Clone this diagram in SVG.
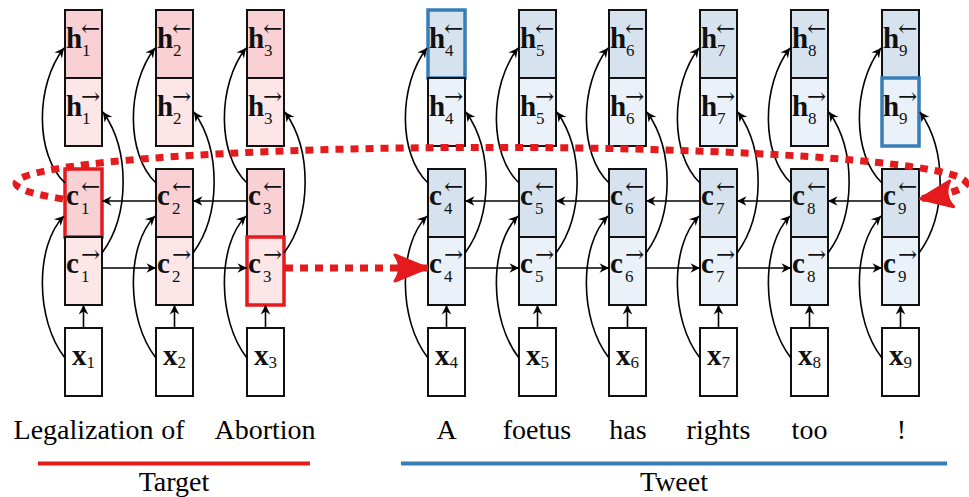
<svg xmlns="http://www.w3.org/2000/svg" width="969" height="497" viewBox="0 0 969 497">
<style>
.box{stroke:#111;stroke-width:2}
.pd{fill:#f9d0d3}.pl{fill:#fce6e8}.bd{fill:#d6e3ef}.bl{fill:#eaf1f8}.wh{fill:#fff}
.hr{fill:none;stroke:#e41a1c;stroke-width:3.5}
.hb{fill:none;stroke:#377eb8;stroke-width:3.5}
.m{font-family:'Liberation Serif','Times New Roman',serif;font-weight:bold;font-size:29px;fill:#111}
.s{font-weight:normal;font-size:17px}
.ar{font-family:'DejaVu Serif',serif;font-weight:normal;font-size:23px}
.w{font-family:'Liberation Serif','Times New Roman',serif;font-size:28px;fill:#000;text-anchor:middle}
.cn{fill:none;stroke:#000;stroke-width:1.6;marker-end:url(#ah)}
.rd{fill:none;stroke:#e41a1c;stroke-width:7;stroke-dasharray:8 7;marker-end:url(#rah)}
</style>
<defs>
<marker id="ah" viewBox="-11 -6 12 12" refX="0" refY="0" markerWidth="12" markerHeight="12" markerUnits="userSpaceOnUse" orient="auto">
<path d="M0,0 L-9.5,-4.8 L-6.5,0 L-9.5,4.8 Z" fill="#000"/>
</marker>
<marker id="rah" viewBox="-38 -18 40 36" refX="0" refY="0" markerWidth="40" markerHeight="36" markerUnits="userSpaceOnUse" orient="auto">
<path d="M-1.5,0 L-33,-13 Q-24,0 -33,13 Z" fill="#e41a1c" stroke="#e41a1c" stroke-width="3" stroke-linejoin="round"/>
</marker>
</defs>

<!-- Column 1 -->
<g id="h1b"><rect class="box pd" x="65" y="10" width="37" height="68"/><text class="m" x="66" y="48">h<tspan class="ar" x="81" dy="-12">←</tspan><tspan class="s" x="82" dy="20">1</tspan></text></g>
<g id="h1f"><rect class="box pl" x="65" y="78" width="37" height="68"/><text class="m" x="66" y="116">h<tspan class="ar" x="81" dy="-12">→</tspan><tspan class="s" x="82" dy="20">1</tspan></text></g>
<g id="c1b"><rect class="box pd" x="65" y="169" width="37" height="68"/><text class="m" x="66" y="205">c<tspan class="ar" x="81" dy="-11">←</tspan><tspan class="s" x="81" dy="20">1</tspan></text><rect class="hr" x="65" y="169" width="37" height="68"/></g>
<g id="c1f"><rect class="box pl" x="65" y="237" width="37" height="68"/><text class="m" x="66" y="273">c<tspan class="ar" x="81" dy="-11">→</tspan><tspan class="s" x="81" dy="20">1</tspan></text></g>
<g id="x1"><rect class="box wh" x="65" y="328" width="37" height="68"/><text class="m" x="83.5" y="365" text-anchor="middle">x<tspan class="s" dy="3">1</tspan></text></g>

<!-- Column 2 -->
<g id="h2b"><rect class="box pd" x="156" y="10" width="37" height="68"/><text class="m" x="157" y="48">h<tspan class="ar" x="172" dy="-12">←</tspan><tspan class="s" x="173" dy="20">2</tspan></text></g>
<g id="h2f"><rect class="box pl" x="156" y="78" width="37" height="68"/><text class="m" x="157" y="116">h<tspan class="ar" x="172" dy="-12">→</tspan><tspan class="s" x="173" dy="20">2</tspan></text></g>
<g id="c2b"><rect class="box pd" x="156" y="169" width="37" height="68"/><text class="m" x="157" y="205">c<tspan class="ar" x="172" dy="-11">←</tspan><tspan class="s" x="172" dy="20">2</tspan></text></g>
<g id="c2f"><rect class="box pl" x="156" y="237" width="37" height="68"/><text class="m" x="157" y="273">c<tspan class="ar" x="172" dy="-11">→</tspan><tspan class="s" x="172" dy="20">2</tspan></text></g>
<g id="x2"><rect class="box wh" x="156" y="328" width="37" height="68"/><text class="m" x="174.5" y="365" text-anchor="middle">x<tspan class="s" dy="3">2</tspan></text></g>

<!-- Column 3 -->
<g id="h3b"><rect class="box pd" x="247" y="10" width="37" height="68"/><text class="m" x="248" y="48">h<tspan class="ar" x="263" dy="-12">←</tspan><tspan class="s" x="264" dy="20">3</tspan></text></g>
<g id="h3f"><rect class="box pl" x="247" y="78" width="37" height="68"/><text class="m" x="248" y="116">h<tspan class="ar" x="263" dy="-12">→</tspan><tspan class="s" x="264" dy="20">3</tspan></text></g>
<g id="c3b"><rect class="box pd" x="247" y="169" width="37" height="68"/><text class="m" x="248" y="205">c<tspan class="ar" x="263" dy="-11">←</tspan><tspan class="s" x="263" dy="20">3</tspan></text></g>
<g id="c3f"><rect class="box pl" x="247" y="237" width="37" height="68"/><text class="m" x="248" y="273">c<tspan class="ar" x="263" dy="-11">→</tspan><tspan class="s" x="263" dy="20">3</tspan></text><rect class="hr" x="247" y="237" width="37" height="68"/></g>
<g id="x3"><rect class="box wh" x="247" y="328" width="37" height="68"/><text class="m" x="265.5" y="365" text-anchor="middle">x<tspan class="s" dy="3">3</tspan></text></g>

<!-- Column 4 -->
<g id="h4b"><rect class="box bd" x="428" y="10" width="37" height="68"/><text class="m" x="429" y="48">h<tspan class="ar" x="444" dy="-12">←</tspan><tspan class="s" x="445" dy="20">4</tspan></text><rect class="hb" x="428" y="10" width="37" height="68"/></g>
<g id="h4f"><rect class="box bl" x="428" y="78" width="37" height="68"/><text class="m" x="429" y="116">h<tspan class="ar" x="444" dy="-12">→</tspan><tspan class="s" x="445" dy="20">4</tspan></text></g>
<g id="c4b"><rect class="box bd" x="428" y="169" width="37" height="68"/><text class="m" x="429" y="205">c<tspan class="ar" x="444" dy="-11">←</tspan><tspan class="s" x="444" dy="20">4</tspan></text></g>
<g id="c4f"><rect class="box bl" x="428" y="237" width="37" height="68"/><text class="m" x="429" y="273">c<tspan class="ar" x="444" dy="-11">→</tspan><tspan class="s" x="444" dy="20">4</tspan></text></g>
<g id="x4"><rect class="box wh" x="428" y="328" width="37" height="68"/><text class="m" x="446.5" y="365" text-anchor="middle">x<tspan class="s" dy="3">4</tspan></text></g>

<!-- Column 5 -->
<g id="h5b"><rect class="box bd" x="519" y="10" width="37" height="68"/><text class="m" x="520" y="48">h<tspan class="ar" x="535" dy="-12">←</tspan><tspan class="s" x="536" dy="20">5</tspan></text></g>
<g id="h5f"><rect class="box bl" x="519" y="78" width="37" height="68"/><text class="m" x="520" y="116">h<tspan class="ar" x="535" dy="-12">→</tspan><tspan class="s" x="536" dy="20">5</tspan></text></g>
<g id="c5b"><rect class="box bd" x="519" y="169" width="37" height="68"/><text class="m" x="520" y="205">c<tspan class="ar" x="535" dy="-11">←</tspan><tspan class="s" x="535" dy="20">5</tspan></text></g>
<g id="c5f"><rect class="box bl" x="519" y="237" width="37" height="68"/><text class="m" x="520" y="273">c<tspan class="ar" x="535" dy="-11">→</tspan><tspan class="s" x="535" dy="20">5</tspan></text></g>
<g id="x5"><rect class="box wh" x="519" y="328" width="37" height="68"/><text class="m" x="537.5" y="365" text-anchor="middle">x<tspan class="s" dy="3">5</tspan></text></g>

<!-- Column 6 -->
<g id="h6b"><rect class="box bd" x="609" y="10" width="37" height="68"/><text class="m" x="610" y="48">h<tspan class="ar" x="625" dy="-12">←</tspan><tspan class="s" x="626" dy="20">6</tspan></text></g>
<g id="h6f"><rect class="box bl" x="609" y="78" width="37" height="68"/><text class="m" x="610" y="116">h<tspan class="ar" x="625" dy="-12">→</tspan><tspan class="s" x="626" dy="20">6</tspan></text></g>
<g id="c6b"><rect class="box bd" x="609" y="169" width="37" height="68"/><text class="m" x="610" y="205">c<tspan class="ar" x="625" dy="-11">←</tspan><tspan class="s" x="625" dy="20">6</tspan></text></g>
<g id="c6f"><rect class="box bl" x="609" y="237" width="37" height="68"/><text class="m" x="610" y="273">c<tspan class="ar" x="625" dy="-11">→</tspan><tspan class="s" x="625" dy="20">6</tspan></text></g>
<g id="x6"><rect class="box wh" x="609" y="328" width="37" height="68"/><text class="m" x="627.5" y="365" text-anchor="middle">x<tspan class="s" dy="3">6</tspan></text></g>

<!-- Column 7 -->
<g id="h7b"><rect class="box bd" x="700" y="10" width="37" height="68"/><text class="m" x="701" y="48">h<tspan class="ar" x="716" dy="-12">←</tspan><tspan class="s" x="717" dy="20">7</tspan></text></g>
<g id="h7f"><rect class="box bl" x="700" y="78" width="37" height="68"/><text class="m" x="701" y="116">h<tspan class="ar" x="716" dy="-12">→</tspan><tspan class="s" x="717" dy="20">7</tspan></text></g>
<g id="c7b"><rect class="box bd" x="700" y="169" width="37" height="68"/><text class="m" x="701" y="205">c<tspan class="ar" x="716" dy="-11">←</tspan><tspan class="s" x="716" dy="20">7</tspan></text></g>
<g id="c7f"><rect class="box bl" x="700" y="237" width="37" height="68"/><text class="m" x="701" y="273">c<tspan class="ar" x="716" dy="-11">→</tspan><tspan class="s" x="716" dy="20">7</tspan></text></g>
<g id="x7"><rect class="box wh" x="700" y="328" width="37" height="68"/><text class="m" x="718.5" y="365" text-anchor="middle">x<tspan class="s" dy="3">7</tspan></text></g>

<!-- Column 8 -->
<g id="h8b"><rect class="box bd" x="791" y="10" width="37" height="68"/><text class="m" x="792" y="48">h<tspan class="ar" x="807" dy="-12">←</tspan><tspan class="s" x="808" dy="20">8</tspan></text></g>
<g id="h8f"><rect class="box bl" x="791" y="78" width="37" height="68"/><text class="m" x="792" y="116">h<tspan class="ar" x="807" dy="-12">→</tspan><tspan class="s" x="808" dy="20">8</tspan></text></g>
<g id="c8b"><rect class="box bd" x="791" y="169" width="37" height="68"/><text class="m" x="792" y="205">c<tspan class="ar" x="807" dy="-11">←</tspan><tspan class="s" x="807" dy="20">8</tspan></text></g>
<g id="c8f"><rect class="box bl" x="791" y="237" width="37" height="68"/><text class="m" x="792" y="273">c<tspan class="ar" x="807" dy="-11">→</tspan><tspan class="s" x="807" dy="20">8</tspan></text></g>
<g id="x8"><rect class="box wh" x="791" y="328" width="37" height="68"/><text class="m" x="809.5" y="365" text-anchor="middle">x<tspan class="s" dy="3">8</tspan></text></g>

<!-- Column 9 -->
<g id="h9b"><rect class="box bd" x="882" y="10" width="37" height="68"/><text class="m" x="883" y="48">h<tspan class="ar" x="898" dy="-12">←</tspan><tspan class="s" x="899" dy="20">9</tspan></text></g>
<g id="h9f"><rect class="box bl" x="882" y="78" width="37" height="68"/><text class="m" x="883" y="116">h<tspan class="ar" x="898" dy="-12">→</tspan><tspan class="s" x="899" dy="20">9</tspan></text><rect class="hb" x="882" y="78" width="37" height="68"/></g>
<g id="c9b"><rect class="box bd" x="882" y="169" width="37" height="68"/><text class="m" x="883" y="205">c<tspan class="ar" x="898" dy="-11">←</tspan><tspan class="s" x="898" dy="20">9</tspan></text></g>
<g id="c9f"><rect class="box bl" x="882" y="237" width="37" height="68"/><text class="m" x="883" y="273">c<tspan class="ar" x="898" dy="-11">→</tspan><tspan class="s" x="898" dy="20">9</tspan></text></g>
<g id="x9"><rect class="box wh" x="882" y="328" width="37" height="68"/><text class="m" x="900.5" y="365" text-anchor="middle">x<tspan class="s" dy="3">9</tspan></text></g>

<g id="connectors">
<path class="cn" d="M65,358 C35,320 35,245 64,216"/><path class="cn" d="M65,183 C35,155 35,85 64,48"/><path class="cn" d="M102,253 C130,215 130,150 103,112"/><path class="cn" d="M83.5,328 V305"/><path class="cn" d="M102,268 H156"/><path class="cn" d="M156,201 H102"/>
<path class="cn" d="M156,358 C126,320 126,245 155,216"/><path class="cn" d="M156,183 C126,155 126,85 155,48"/><path class="cn" d="M193,253 C221,215 221,150 194,112"/><path class="cn" d="M174.5,328 V305"/><path class="cn" d="M193,268 H247"/><path class="cn" d="M247,201 H193"/>
<path class="cn" d="M247,358 C217,320 217,245 246,216"/><path class="cn" d="M247,183 C217,155 217,85 246,48"/><path class="cn" d="M284,253 C312,215 312,150 285,112"/><path class="cn" d="M265.5,328 V305"/>
<path class="cn" d="M428,358 C398,320 398,245 427,216"/><path class="cn" d="M428,183 C398,155 398,85 427,48"/><path class="cn" d="M465,253 C493,215 493,150 466,112"/><path class="cn" d="M446.5,328 V305"/><path class="cn" d="M465,268 H519"/><path class="cn" d="M519,201 H465"/>
<path class="cn" d="M519,358 C489,320 489,245 518,216"/><path class="cn" d="M519,183 C489,155 489,85 518,48"/><path class="cn" d="M556,253 C584,215 584,150 557,112"/><path class="cn" d="M537.5,328 V305"/><path class="cn" d="M556,268 H609"/><path class="cn" d="M609,201 H556"/>
<path class="cn" d="M609,358 C579,320 579,245 608,216"/><path class="cn" d="M609,183 C579,155 579,85 608,48"/><path class="cn" d="M646,253 C674,215 674,150 647,112"/><path class="cn" d="M627.5,328 V305"/><path class="cn" d="M646,268 H700"/><path class="cn" d="M700,201 H646"/>
<path class="cn" d="M700,358 C670,320 670,245 699,216"/><path class="cn" d="M700,183 C670,155 670,85 699,48"/><path class="cn" d="M737,253 C765,215 765,150 738,112"/><path class="cn" d="M718.5,328 V305"/><path class="cn" d="M737,268 H791"/><path class="cn" d="M791,201 H737"/>
<path class="cn" d="M791,358 C761,320 761,245 790,216"/><path class="cn" d="M791,183 C761,155 761,85 790,48"/><path class="cn" d="M828,253 C856,215 856,150 829,112"/><path class="cn" d="M809.5,328 V305"/><path class="cn" d="M828,268 H882"/><path class="cn" d="M882,201 H828"/>
<path class="cn" d="M882,358 C852,320 852,245 881,216"/><path class="cn" d="M882,183 C852,155 852,85 881,48"/><path class="cn" d="M919,253 C947,215 947,150 920,112"/><path class="cn" d="M900.5,328 V305"/>
<path class="rd" d="M285,268 H428"/>
<path class="rd" d="M63,199 A475 36 0 1 1 919,199"/>
</g>

<g id="labels">
<text class="w" x="83.5" y="439">Legalization</text>
<text class="w" x="173" y="439">of</text>
<text class="w" x="265" y="439">Abortion</text>
<text class="w" x="446.5" y="439">A</text>
<text class="w" x="537" y="439">foetus</text>
<text class="w" x="628" y="439">has</text>
<text class="w" x="718.5" y="439">rights</text>
<text class="w" x="809.5" y="439">too</text>
<text class="w" x="901.5" y="439">!</text>
<line x1="38" y1="463.5" x2="310" y2="463.5" stroke="#e41a1c" stroke-width="4"/>
<line x1="401" y1="463.5" x2="947" y2="463.5" stroke="#377eb8" stroke-width="4"/>
<text class="w" x="174" y="491">Target</text>
<text class="w" x="674" y="491">Tweet</text>
</g>
</svg>
